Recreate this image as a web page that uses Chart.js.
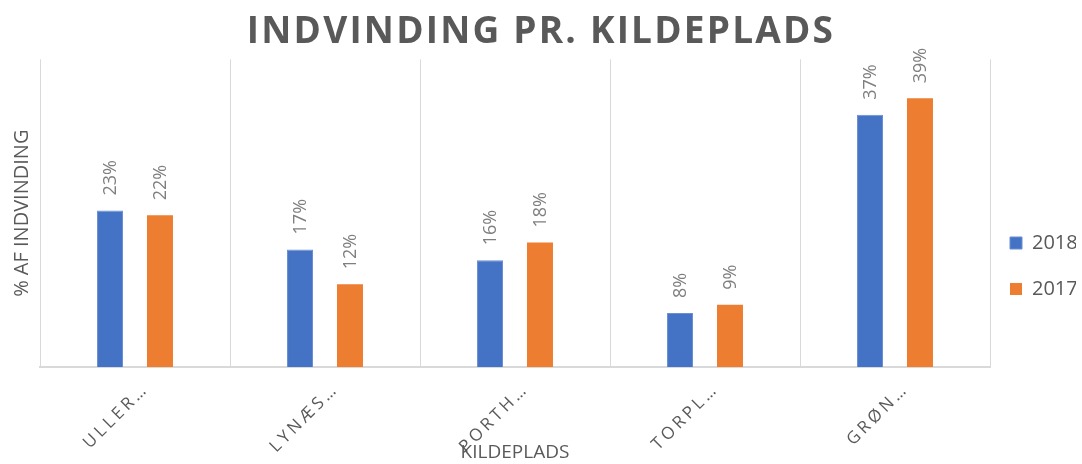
<!DOCTYPE html>
<html>
<head>
<meta charset="utf-8">
<script src="https://cdn.jsdelivr.net/npm/chart.js@4/dist/chart.umd.min.js"></script>
<style>
html,body{margin:0;padding:0;background:#fff;}
#wrap{width:1082px;height:464px;position:relative;}
</style>
</head>
<body>
<div id="wrap"><canvas id="c"></canvas></div>
<script>
const categories = ["ULLER…", "LYNÆS…", "PORTH…", "TORPL…", "GRØN…"];
const seriesNames = ["2018", "2017"];
const values2018 = [0.229, 0.172, 0.156, 0.079, 0.369];
const values2017 = [0.222, 0.121, 0.182, 0.091, 0.393];
const yMax = 0.45;

// letter spacing for title and category labels
const CatScale = Chart.CategoryScale;
const origDrawLabels = CatScale.prototype.drawLabels;
CatScale.prototype.drawLabels = function (area) {
  const ctx = this.ctx; ctx.save(); ctx.letterSpacing = '3.5px';
  origDrawLabels.call(this, area); ctx.restore();
};
const TitleEl = Chart.Title._element;
const origTitleDraw = TitleEl.prototype.draw;
TitleEl.prototype.draw = function () {
  const ctx = this.ctx; ctx.save(); ctx.letterSpacing = '2.2px';
  origTitleDraw.call(this); ctx.restore();
};
const LegendEl = Chart.Legend._element;
const origLegendFit = LegendEl.prototype.fit;
LegendEl.prototype.fit = function () {
  origLegendFit.call(this);
  if (this.isHorizontal && !this.isHorizontal()) this.width = 92;
};
const origLegendDraw = LegendEl.prototype.draw;
LegendEl.prototype.draw = function () {
  const ctx = this.ctx; ctx.save(); ctx.translate(-6, 34);
  origLegendDraw.call(this); ctx.restore();
};

const valueLabels = {
  id: 'valueLabels',
  afterDatasetsDraw(chart) {
    const ctx = chart.ctx;
    ctx.save();
    ctx.font = '18px "Open Sans"';
    ctx.fillStyle = '#7f7f7f';
    ctx.textAlign = 'left';
    ctx.textBaseline = 'middle';
    chart.data.datasets.forEach((ds, i) => {
      const meta = chart.getDatasetMeta(i);
      meta.data.forEach((bar, j) => {
        const txt = Math.round(ds.data[j] * 100) + '%';
        ctx.save();
        ctx.translate(bar.x + 1, bar.y - 15);
        ctx.rotate(-Math.PI / 2);
        ctx.fillText(txt, 0, 0);
        ctx.restore();
      });
    });
    ctx.restore();
  }
};

new Chart(document.getElementById('c'), {
  type: 'bar',
  data: {
    labels: categories,
    datasets: [
      { label: seriesNames[0], data: values2018, backgroundColor: '#4472C4', borderColor: '#6a8fd3', borderWidth: 1 },
      { label: seriesNames[1], data: values2017, backgroundColor: '#ED7D31', borderWidth: 0 }
    ]
  },
  options: {
    responsive: true,
    maintainAspectRatio: false,
    animation: false,
    categoryPercentage: 0.526,
    barPercentage: 0.52,
    layout: { padding: { left: 0, right: 0, top: 0, bottom: 0 } },
    plugins: {
      title: {
        display: true,
        text: 'INDVINDING PR. KILDEPLADS',
        color: '#595959',
        font: { family: '"Open Sans"', size: 37, weight: 'bold' },
        padding: { top: 10, bottom: 5 }
      },
      legend: {
        position: 'right',
        align: 'center',
        labels: {
          color: '#595959',
          font: { family: '"Open Sans"', size: 20 },
          boxWidth: 12, boxHeight: 12, padding: 26
        }
      },
      tooltip: { enabled: false }
    },
    scales: {
      x: {
        grid: { display: true, color: '#d9d9d9', lineWidth: 1, drawTicks: false, offset: true },
        border: { display: true, color: '#d9d9d9', width: 2 },
        ticks: {
          color: '#595959',
          font: { family: '"Open Sans"', size: 17 },
          minRotation: 45, maxRotation: 45,
          labelOffset: 11,
          padding: 12,
          autoSkip: false
        },
        title: {
          display: true, text: 'KILDEPLADS', color: '#595959',
          font: { family: '"Open Sans"', size: 19 },
          padding: { top: 0, bottom: 0 }
        },
        afterFit(s) { s.height = 97; }
      },
      y: {
        min: 0, max: yMax,
        grid: { display: false },
        border: { display: false },
        ticks: { display: false },
        title: {
          display: true, text: '% AF INDVINDING', color: '#595959',
          font: { family: '"Open Sans"', size: 20 },
          padding: { top: 10, bottom: 0 }
        },
        afterFit(s) { s.width = 40; }
      }
    }
  },
  plugins: [valueLabels]
});
</script>
</body>
</html>
